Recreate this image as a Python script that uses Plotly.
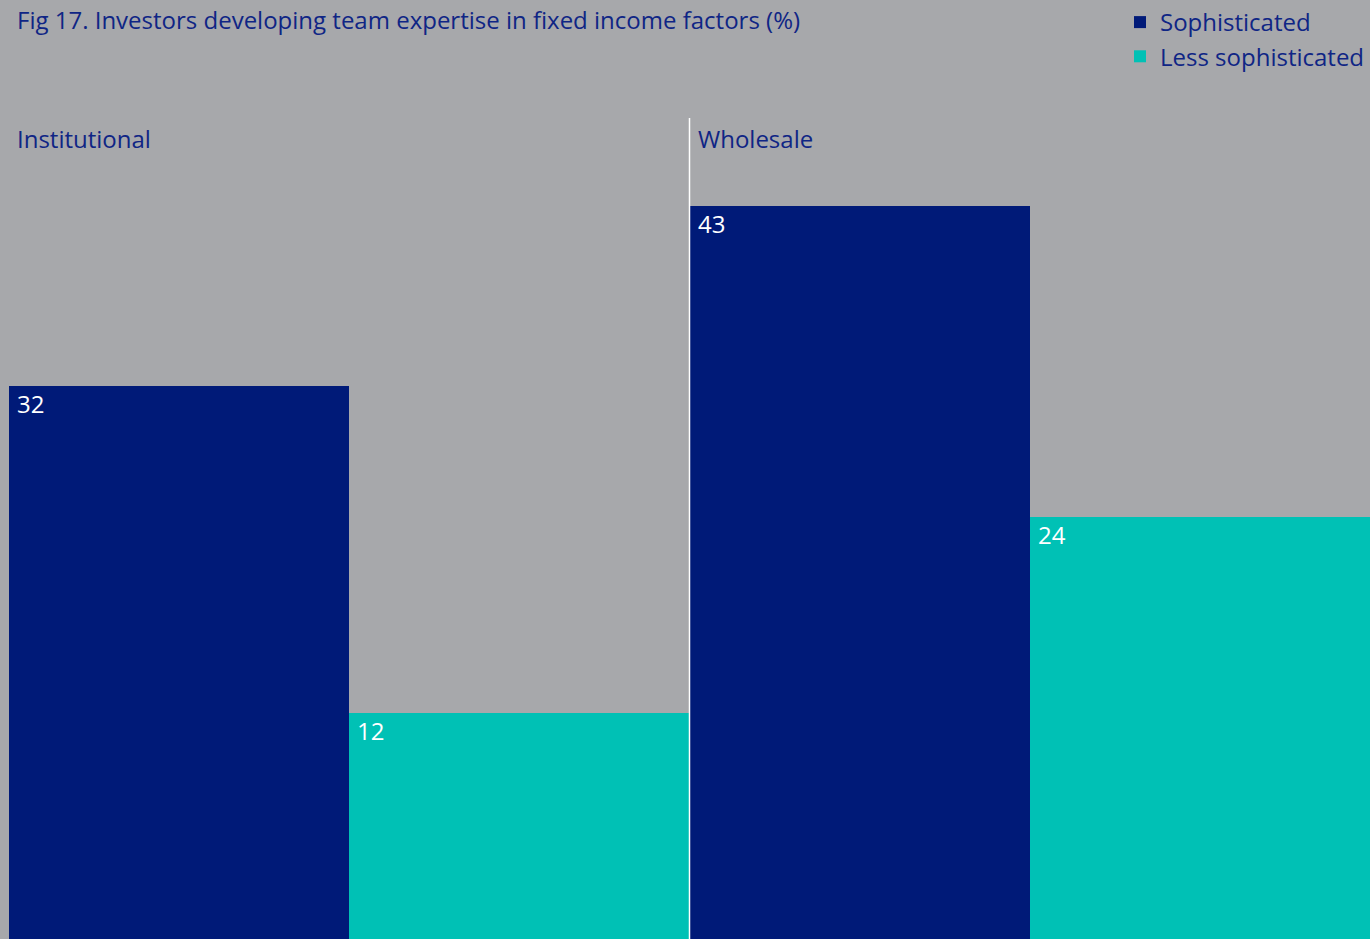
import plotly.graph_objects as go

categories = ["Institutional", "Wholesale"]
series_names = ["Sophisticated", "Less sophisticated"]
sophisticated = [32, 43]
less_sophisticated = [12, 24]

title_text = "Fig 17. Investors developing team expertise in fixed income factors (%)"

NAVY = "#001a78"
TEAL = "#00c1b5"
BG = "#a7a8ab"
TEXT = "#0f2585"
FONT = "Open Sans"

Y_MIN = -1.8
Y_MAX = 48.4

fig = go.Figure()
for name, vals, col in [(series_names[0], sophisticated, NAVY),
                        (series_names[1], less_sophisticated, TEAL)]:
    fig.add_trace(go.Bar(
        name=name,
        x=categories,
        y=[v - Y_MIN for v in vals],
        base=Y_MIN,
        customdata=vals,
        hovertemplate="%{x}: %{customdata}<extra>" + name + "</extra>",
        marker=dict(color=col, line=dict(width=0)),
    ))

annotations = []
for i, cat in enumerate(categories):
    for j, vals in enumerate([sophisticated, less_sophisticated]):
        annotations.append(dict(
            x=i - 0.5 + 0.5 * j, y=vals[i], xref="x", yref="y",
            text=str(vals[i]), showarrow=False,
            xanchor="left", yanchor="top", xshift=6, yshift=1,
            font=dict(family=FONT, size=24, color="white"),
        ))
    annotations.append(dict(
        x=i - 0.5, y=1, xref="x", yref="paper",
        text=cat, showarrow=False,
        xanchor="left", yanchor="top", xshift=6, yshift=-2,
        font=dict(family=FONT, size=24, color=TEXT),
    ))

fig.update_layout(
    width=1370, height=939,
    margin=dict(l=9, r=0, t=118, b=0),
    paper_bgcolor=BG, plot_bgcolor=BG,
    barmode="group", bargap=0, bargroupgap=0,
    title=dict(text=title_text, xref="container", yref="container",
               x=17 / 1370, xanchor="left", y=1 - 21 / 939, yanchor="middle",
               font=dict(family=FONT, size=24, color=TEXT)),
    legend=dict(xref="paper", yref="container", x=(1124 - 9) / 1361, xanchor="left",
                y=1, yanchor="top", bgcolor="rgba(0,0,0,0)",
                font=dict(family=FONT, size=24, color=TEXT),
                tracegroupgap=0, itemwidth=30),
    xaxis=dict(visible=False, range=[-0.5, 1.5]),
    yaxis=dict(visible=False, range=[Y_MIN, Y_MAX]),
    annotations=annotations,
    shapes=[dict(type="line", xref="x", yref="paper", x0=0.5, x1=0.5, y0=0, y1=1,
                 line=dict(color="white", width=1.5))],
    showlegend=True,
)

fig.write_html("out.html", config={"displayModeBar": False},
               post_script="document.body.style.margin='0';")
